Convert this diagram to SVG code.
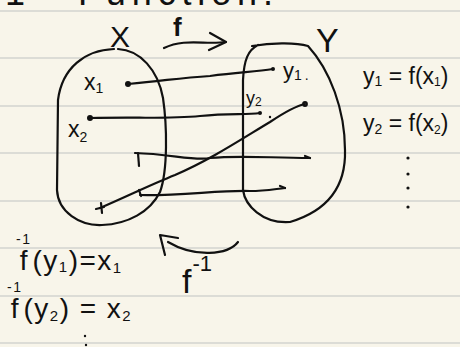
<svg xmlns="http://www.w3.org/2000/svg" width="460" height="347" viewBox="0 0 460 347">
<defs>
<style>
.ink{fill:none;stroke:#111;stroke-width:2.2;stroke-linecap:round;stroke-linejoin:round}
.rule{stroke:#dcdcd6;stroke-width:2}
.t{font-family:"Liberation Sans","DejaVu Sans",sans-serif;fill:#111}
.dot{fill:#111}
</style>
</defs>
<rect width="460" height="347" fill="#f8f5ea"/>
<g id="rules">
<line class="rule" x1="0" y1="11" x2="460" y2="11"/>
<line class="rule" x1="0" y1="58" x2="460" y2="58"/>
<line class="rule" x1="0" y1="106" x2="460" y2="106"/>
<line class="rule" x1="0" y1="153" x2="460" y2="153"/>
<line class="rule" x1="0" y1="201" x2="460" y2="201"/>
<line class="rule" x1="0" y1="248" x2="460" y2="248"/>
<line class="rule" x1="0" y1="296" x2="460" y2="296"/>
<line class="rule" x1="0" y1="343" x2="460" y2="343"/>
</g>
<g id="title">
<text class="t" x="5" y="5" font-size="36">1</text>
<text class="t" x="78" y="5" font-size="36" textLength="195">Function.</text>
</g>
<g id="setX">
<path class="ink" d="M114,49 C85,50 62,68 58,100 L57,190 C58,212 80,226 102,225 C128,224 150,212 160,192 C168,170 167,125 163,98 C158,70 140,50 118,49"/>
<text class="t" x="110" y="47" font-size="30">X</text>
<text class="t" x="84" y="90" font-size="23">x<tspan font-size="14" dy="3">1</tspan></text>
<text class="t" x="68" y="137" font-size="23">x<tspan font-size="14" dy="5">2</tspan></text>
</g>
<g id="setY">
<path class="ink" d="M252,46 C270,43 295,42 308,46 C330,70 345,110 345,150 C346,185 330,210 290,222 C262,224 245,205 243,190 L243,80 C244,60 248,50 258,45"/>
<text class="t" x="316" y="52" font-size="34">Y</text>
<text class="t" x="283" y="78" font-size="22">y<tspan font-size="14" dy="2">1</tspan><tspan font-size="14" dx="3">.</tspan></text>
<text class="t" x="246" y="104" font-size="18">y<tspan font-size="12" dy="2">2</tspan></text>
</g>
<g id="connectors">
<path class="ink" d="M164,48 C185,38 205,45 226,42"/>
<path class="ink" d="M210,33 L226,42 L209,50"/>
<text class="t" x="173" y="36" font-size="26" font-weight="bold">f</text>
<path class="ink" d="M128,84 C170,80 180,78 210,76 C240,72 255,72 273,69"/>
<circle class="dot" cx="128" cy="84" r="3"/>
<circle class="dot" cx="273" cy="69" r="2"/>
<path class="ink" d="M90,118 C140,117 170,119 200,116 C230,113 245,115 260,113"/>
<circle class="dot" cx="90" cy="118" r="3"/>
<circle class="dot" cx="260" cy="113" r="2"/>
<circle class="dot" cx="270" cy="117" r="1.2"/>
<path class="ink" d="M100,208 C130,195 150,185 175,175 C210,160 240,140 270,122 C285,112 295,106 305,104"/>
<path class="ink" d="M96,209 L104,207 M101,203 L102,213"/>
<circle class="ink" cx="305" cy="104" r="1.8"/>
<path class="ink" d="M135,153 C170,154 195,161 210,158 C240,155 270,158 310,158"/>
<path class="ink" d="M138,153 L139,166"/>
<path class="ink" d="M305,156 L310,158"/>
<path class="ink" d="M140,195 C180,196 220,190 250,191 C265,191 275,189 285,188"/>
<path class="ink" d="M139,190 L141,196"/>
<path class="ink" d="M280,186 L285,188"/>
<path class="ink" d="M238,242 C228,255 195,258 168,242"/>
<path class="ink" d="M165,255 L160,235 L178,238"/>
<text class="t" x="182" y="293" font-size="34">f<tspan font-size="22" dx="1" dy="-22">-1</tspan></text>
</g>
<g id="equations">
<text class="t" x="363" y="84" font-size="23">y<tspan font-size="14" dy="2">1</tspan><tspan dy="-2"> = f(x</tspan><tspan font-size="12" dy="2">1</tspan><tspan dy="-2">)</tspan></text>
<text class="t" x="363" y="131" font-size="23">y<tspan font-size="14" dy="3">2</tspan><tspan dy="-3"> = f(x</tspan><tspan font-size="12" dy="3">2</tspan><tspan dy="-3">)</tspan></text>
<circle class="dot" cx="408" cy="158" r="1.6"/>
<circle class="dot" cx="408" cy="174" r="1.6"/>
<circle class="dot" cx="408" cy="188" r="1.6"/>
<circle class="dot" cx="408" cy="207" r="1.6"/>
<text class="t" x="16" y="270" font-size="28" letter-spacing="1.5">f<tspan font-size="14" dx="-13" dy="-26">-1</tspan><tspan dx="1" dy="26">(y</tspan><tspan font-size="15" dy="2">1</tspan><tspan dy="-2">)=x</tspan><tspan font-size="15" dy="3">1</tspan></text>
<text class="t" x="7" y="318" font-size="28" letter-spacing="1.5">f<tspan font-size="14" dx="-13" dy="-26">-1</tspan><tspan dx="1" dy="26">(y</tspan><tspan font-size="15" dy="3">2</tspan><tspan dy="-3">) = x</tspan><tspan font-size="15" dy="3">2</tspan></text>
<circle class="dot" cx="85" cy="336" r="1.2"/>
<circle class="dot" cx="86" cy="345" r="1.2"/>
</g>
</svg>
